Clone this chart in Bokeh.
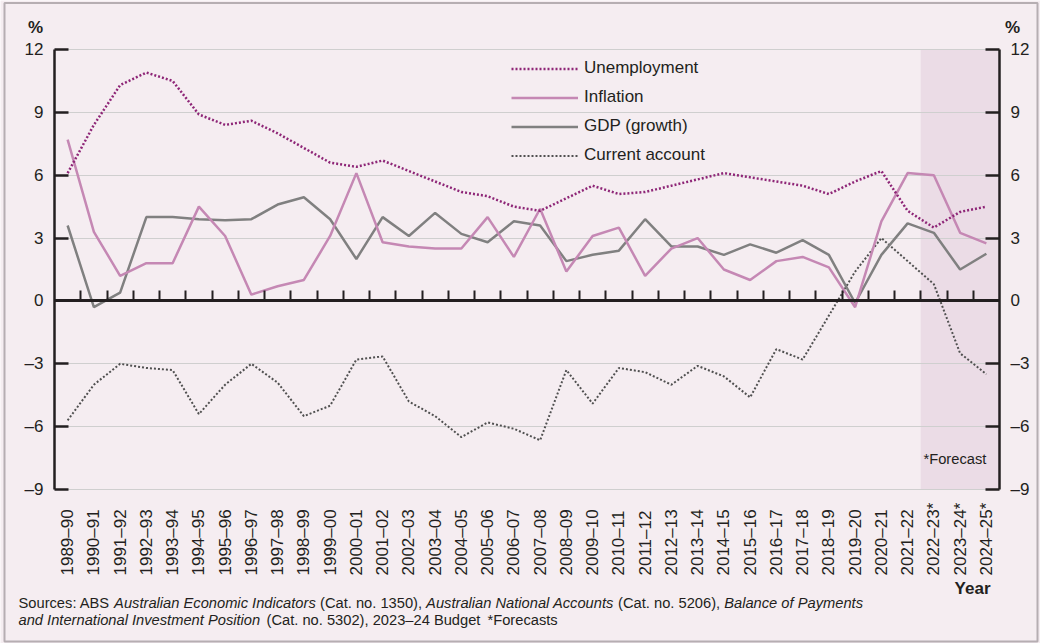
from math import pi
from bokeh.plotting import figure
from bokeh.models import (Range1d, LinearAxis, FixedTicker, BoxAnnotation, Grid,
                          Label, Legend, LegendItem, ColumnDataSource, CustomJSTickFormatter)
from bokeh.core.properties import value
from bokeh.embed import file_html
from bokeh.resources import INLINE

# ---------------- data ----------------
years = ["1989–90", "1990–91", "1991–92", "1992–93", "1993–94", "1994–95", "1995–96",
         "1996–97", "1997–98", "1998–99", "1999–00", "2000–01", "2001–02", "2002–03",
         "2003–04", "2004–05", "2005–06", "2006–07", "2007–08", "2008–09", "2009–10",
         "2010–11", "2011–12", "2012–13", "2013–14", "2014–15", "2015–16", "2016–17",
         "2017–18", "2018–19", "2019–20", "2020–21", "2021–22", "2022–23*", "2023–24*",
         "2024–25*"]
unemployment = [6.1, 8.4, 10.3, 10.9, 10.5, 8.9, 8.4, 8.6, 8.0, 7.3, 6.6, 6.4, 6.7, 6.2,
                5.7, 5.2, 5.0, 4.5, 4.3, 4.9, 5.5, 5.1, 5.2, 5.5, 5.8, 6.1, 5.9, 5.7,
                5.5, 5.1, 5.7, 6.2, 4.3, 3.5, 4.25, 4.5]
inflation = [7.7, 3.3, 1.2, 1.8, 1.8, 4.5, 3.1, 0.3, 0.7, 1.0, 3.1, 6.1, 2.8, 2.6,
             2.5, 2.5, 4.0, 2.1, 4.4, 1.4, 3.1, 3.5, 1.2, 2.5, 3.0, 1.5, 1.0, 1.9,
             2.1, 1.6, -0.3, 3.8, 6.1, 6.0, 3.25, 2.75]
gdp_growth = [3.6, -0.3, 0.4, 4.0, 4.0, 3.9, 3.85, 3.9, 4.6, 4.95, 3.9, 2.0, 4.0, 3.1,
              4.2, 3.2, 2.8, 3.8, 3.6, 1.9, 2.2, 2.4, 3.9, 2.6, 2.6, 2.2, 2.7, 2.3,
              2.9, 2.2, -0.1, 2.2, 3.7, 3.25, 1.5, 2.25]
current_account = [-5.7, -4.0, -3.0, -3.2, -3.3, -5.4, -4.0, -3.0, -3.9, -5.5, -5.0, -2.8,
                   -2.65, -4.8, -5.5, -6.5, -5.8, -6.1, -6.65, -3.3, -4.9, -3.2, -3.4, -4.0,
                   -3.1, -3.6, -4.6, -2.3, -2.8, -0.7, 1.4, 3.0, 1.9, 0.8, -2.5, -3.5]
series_names = ["Unemployment", "Inflation", "GDP (growth)", "Current account"]
y_ticks = [-9, -6, -3, 0, 3, 6, 9, 12]
y_tick_labels = ["–9", "–6", "–3", "0", "3", "6", "9", "12"]
first_forecast = "2022–23*"

# ---------------- style / geometry ----------------
BG = "#F5EDF1"
SHADE = "#EBDCE6"
INK = "#231F20"
C_UNEMP = "#8E2677"
C_INFL = "#C588B4"
C_GDP = "#808080"
C_CA = "#505050"
FONT = "Liberation Sans"

W, H = 1040, 643
FL, FR, FT, FB = 54, 999, 49, 489          # plot area in pixels
N = len(years)
Y0, Y1 = y_ticks[0], y_ticks[-1]
SX = (FR - FL) / N                          # px per category
SY = (FB - FT) / (Y1 - Y0)                  # px per percentage point


def dx(px):
    return (px - FL) / SX


def dy(py):
    return Y1 - (py - FT) / SY


centers = [i + 0.5 for i in range(N)]       # category centres on the x scale
src = ColumnDataSource(dict(x=centers, year=years, unemp=unemployment, infl=inflation,
                            gdp=gdp_growth, ca=current_account))

p = figure(width=W, height=H, x_range=Range1d(dx(0), dx(W)), y_range=Range1d(dy(H), dy(0)),
           output_backend="svg", toolbar_location=None,
           min_border_left=0, min_border_right=0, min_border_top=0, min_border_bottom=0,
           background_fill_color=BG, border_fill_color=BG, outline_line_color=None)
p.xaxis.visible = False
p.yaxis.visible = False
p.xgrid.visible = False
p.ygrid.visible = False

# forecast shading
p.add_layout(BoxAnnotation(left=years.index(first_forecast), right=N, bottom=Y0, top=Y1,
                           fill_color=SHADE, fill_alpha=1, line_color=None, level="image"))

# horizontal grid
yt = FixedTicker(ticks=y_ticks)
grid = Grid(dimension=1, ticker=yt, grid_line_color="#CFCFCF", grid_line_width=1,
            bounds=(Y0, Y1))
if "cross_bounds" in Grid.properties():
    grid.cross_bounds = (0, N)
    p.add_layout(grid)
else:
    p.segment(x0=[0] * len(y_ticks), x1=[N] * len(y_ticks), y0=y_ticks, y1=y_ticks,
              line_color="#CFCFCF", line_width=1, level="underlay")

# y axes, left and right
fmt = CustomJSTickFormatter(args=dict(vals=y_ticks, labs=y_tick_labels),
                            code="const i = vals.indexOf(tick); return i >= 0 ? labs[i] : String(tick);")
ax_l = LinearAxis(ticker=yt, formatter=fmt, fixed_location=0, bounds=(Y0, Y1))
ax_r = LinearAxis(ticker=yt, formatter=fmt, fixed_location=N, bounds=(Y0, Y1))
for ax in (ax_l, ax_r):
    ax.axis_line_color = INK
    ax.axis_line_width = 2.5
    ax.major_tick_in = 14
    ax.major_tick_out = 0
    ax.major_tick_line_color = INK
    ax.major_tick_line_width = 2.5
    ax.minor_tick_line_color = None
    ax.major_label_text_font = FONT
    ax.major_label_text_font_size = "17px"
    ax.major_label_text_color = INK
    ax.major_label_standoff = 11
p.add_layout(ax_l, "left")
p.add_layout(ax_r, "right")

# zero line with category-boundary ticks
ax_0 = LinearAxis(ticker=FixedTicker(ticks=list(range(1, N))),
                  formatter=CustomJSTickFormatter(code="return '';"),
                  fixed_location=0, bounds=(0, N))
ax_0.axis_line_color = INK
ax_0.axis_line_width = 3
ax_0.major_tick_in = 10
ax_0.major_tick_out = 0
ax_0.major_tick_line_color = INK
ax_0.major_tick_line_width = 2
ax_0.minor_tick_line_color = None
p.add_layout(ax_0, "below")

# category labels (vertical, starting at a common baseline below the plot area)
p.text(x="x", y=dy(575), text="year", source=src, angle=pi / 2, text_align="left",
       text_baseline="middle", text_font=value(FONT), text_font_size=value("17px"),
       text_color=INK)

r_ca = p.line("x", "ca", source=src, line_color=C_CA, line_width=2, line_dash="2 2")
r_gdp = p.line("x", "gdp", source=src, line_color=C_GDP, line_width=2.5)
r_infl = p.line("x", "infl", source=src, line_color=C_INFL, line_width=2.5)
r_unemp = p.line("x", "unemp", source=src, line_color=C_UNEMP, line_width=2.5, line_dash="2 2")

legend = Legend(items=[LegendItem(label=series_names[0], renderers=[r_unemp]),
                       LegendItem(label=series_names[1], renderers=[r_infl]),
                       LegendItem(label=series_names[2], renderers=[r_gdp]),
                       LegendItem(label=series_names[3], renderers=[r_ca])],
                location=(511, H - 165.5), orientation="vertical", padding=0, margin=0,
                spacing=8, glyph_width=67, glyph_height=21, label_height=21, label_standoff=6,
                label_text_font=FONT, label_text_font_size="17px", label_text_color=INK,
                background_fill_alpha=0, border_line_color=None)
p.add_layout(legend)


def lab(text, px, py, align="left", size="17px", style="normal"):
    p.add_layout(Label(x=dx(px), y=dy(py), text=text, text_align=align, text_baseline="middle",
                       text_font=FONT, text_font_size=size, text_font_style=style,
                       text_color=INK))


lab("%", 35, 27, "center", "17px", "bold")
lab("%", 1012, 27, "center", "17px", "bold")
lab("*Forecast", 923, 458, "left", "14.7px")
lab("Year", 990, 588, "right", "17px", "bold")

# sources note
fs = "14.7px"
lab("Sources: ABS", 18, 602, "left", fs)
lab("Australian Economic Indicators", 113.6, 602, "left", fs, "italic")
lab("(Cat. no. 1350),", 319.5, 602, "left", fs)
lab("Australian National Accounts", 425.6, 602, "left", fs, "italic")
lab("(Cat. no. 5206),", 617.6, 602, "left", fs)
lab("Balance of Payments", 723.7, 602, "left", fs, "italic")
lab("and International Investment Position", 18, 619, "left", fs, "italic")
lab("(Cat. no. 5302), 2023–24 Budget", 266, 619, "left", fs)
lab("*Forecasts", 487, 619, "left", fs)

# outer frame
p.add_layout(BoxAnnotation(left=dx(4), right=dx(1037), top=dy(2.5), bottom=dy(641),
                           fill_alpha=0, line_color=INK, line_width=2, level="overlay"))

open("out.html", "w").write(file_html(p, INLINE))
